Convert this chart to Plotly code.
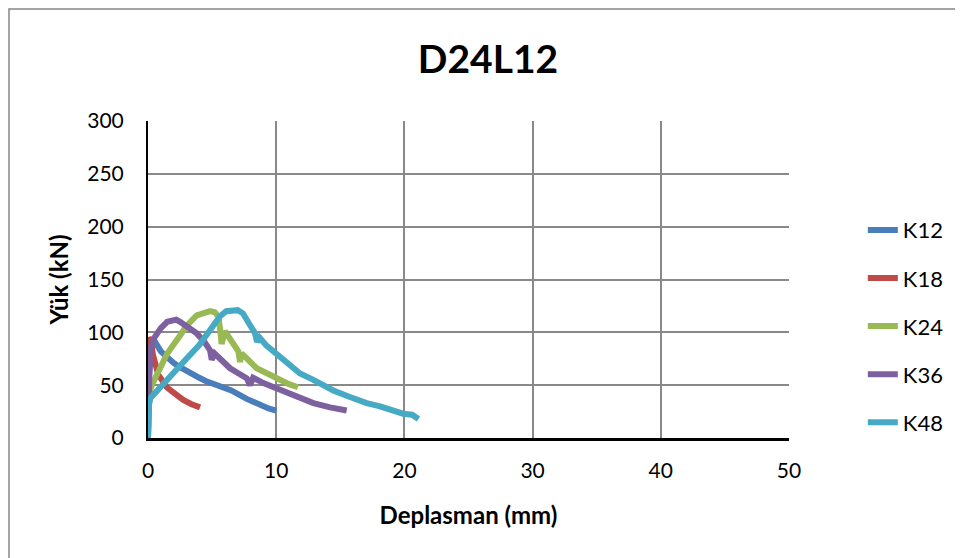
import plotly.graph_objects as go

# ---- data ----
names = ["K12", "K18", "K24", "K36", "K48"]
colors = ["#4A7EBB", "#BE4B48", "#98B954", "#7D60A0", "#46AAC5"]

k12_x = [0, 0.05, 0.3, 0.6, 1.0, 1.5, 2.0, 2.5, 3.3, 4.0, 4.5, 5.5, 6.5, 7.7, 8.7, 9.4, 10.0]
k12_y = [0, 55, 88, 90, 82, 76, 71, 67, 61, 57, 54, 50, 45, 37, 31, 28, 26]

k18_x = [0, 0.02, 0.05, 0.2, 0.4, 0.8, 1.46, 2.0, 2.75, 3.4, 4.06]
k18_y = [0, 60, 95, 92, 78, 60, 48, 43, 36, 32, 29]

k24_x = [0, 0.05, 0.3, 0.9, 1.5, 2.5, 3.0, 3.8, 4.4, 4.84, 5.2, 5.5, 5.65, 5.74, 6.0, 6.4,
         7.05, 7.18, 7.3, 8.48, 9.3, 10.3, 11.0, 11.7]
k24_y = [0, 40, 50, 65, 80, 97, 106, 116, 119, 120, 119, 115, 100, 89, 101, 93,
         82, 72, 80, 66, 61, 55, 51, 48]

k36_x = [0, 0.05, 0.15, 0.5, 1.0, 1.5, 2.2, 2.5, 3.0, 3.8, 4.4, 4.84, 4.97, 5.2, 6.4,
         7.2, 7.7, 7.96, 8.2, 9.0, 10.55, 11.8, 12.9, 14.2, 15.5]
k36_y = [0, 40, 85, 95, 104, 110, 112, 110, 106, 99, 91, 83, 74, 80, 66,
         61, 56.5, 50, 57, 52, 44, 38, 33, 29, 26]

k48_x = [0, 0.05, 0.2, 1.0, 2.0, 2.5, 3.0, 4.0, 4.6, 5.1, 5.6, 6.1, 6.6, 7.0, 7.4, 7.8,
         8.35, 8.5, 8.7, 9.2, 10.0, 10.8, 11.86, 12.9, 14.45, 15.7, 17.06, 18.1, 19.9,
         20.6, 21.1]
k48_y = [0, 30, 38, 48, 61, 68, 75, 88, 99, 108, 115, 120, 121, 121, 118, 111,
         99, 91, 95, 88, 80, 72, 61, 55, 45, 39, 33, 30, 23,
         22, 18]

xs = [k12_x, k18_x, k24_x, k36_x, k48_x]
ys = [k12_y, k18_y, k24_y, k36_y, k48_y]

x_ticks = [0, 10, 20, 30, 40, 50]
y_ticks = [0, 50, 100, 150, 200, 250, 300]

FONT = "Lato"

fig = go.Figure()
for n, c, x, y in zip(names, colors, xs, ys):
    fig.add_trace(go.Scatter(
        x=x, y=y, name=n, mode="lines",
        line=dict(color=c, width=6, shape="linear"),
        legendgroup=n,
    ))

# page body has an 8px margin, so figure coordinates = page coordinates - 8
OFF = 8
W, H = 963 - OFF, 558 - OFF
L, R, T, B = 148 - OFF, 789 - OFF, 121 - OFF, 438 - OFF
PW, PH = R - L, B - T

fig.update_layout(
    width=W, height=H,
    margin=dict(l=L, r=W - R, t=T, b=H - B),
    paper_bgcolor="white", plot_bgcolor="white",
    font=dict(family=FONT, size=21, color="black"),
    title=dict(text="<b>D24L12</b>", x=(488 - OFF) / W, xanchor="center",
               y=1 - (59 - OFF) / H, yanchor="middle", yref="container",
               font=dict(family=FONT, size=39, color="black")),
    showlegend=True,
    legend=dict(x=(842 - 148) / 641 + 0.0325, xanchor="left",
                y=(438 - 230) / 317 + 0.066, yanchor="top",
                font=dict(family=FONT, size=22, color="black"),
                tracegroupgap=16.5, traceorder="grouped",
                bgcolor="rgba(0,0,0,0)", borderwidth=0),
    xaxis=dict(range=[0, 50], tickvals=x_ticks, ticktext=[str(v) for v in x_ticks],
               showgrid=True, gridcolor="#898989", gridwidth=1.5,
               showline=True, linecolor="black", linewidth=3,
               ticks="outside", ticklen=12, tickcolor="rgba(0,0,0,0)",
               zeroline=False,
               title=dict(text="<b>Deplasman (mm)</b>", standoff=26,
                          font=dict(family=FONT, size=24, color="black"))),
    yaxis=dict(range=[0, 300], tickvals=y_ticks, ticktext=[str(v) for v in y_ticks],
               showgrid=True, gridcolor="#898989", gridwidth=1.5,
               showline=True, linecolor="black", linewidth=2,
               ticks="outside", ticklen=18, tickcolor="rgba(0,0,0,0)",
               zeroline=False,
               title=dict(text="<b>Yük (kN)</b>", standoff=12,
                          font=dict(family=FONT, size=24, color="black"))),
)

# outer chart border (partially cropped in the reference)
fig.add_shape(type="rect", xref="paper", yref="paper",
              x0=(1 - L) / PW, x1=(W + 20 - L) / PW,
              y0=(B - H - 20) / PH, y1=(B - 1) / PH,
              line=dict(color="#868686", width=1.5), fillcolor="rgba(0,0,0,0)",
              layer="below")

fig.write_html("out.html")
